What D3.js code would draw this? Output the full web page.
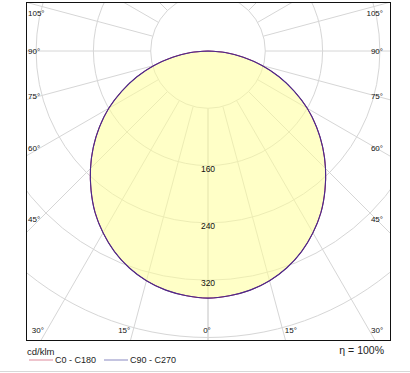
<!DOCTYPE html>
<html>
<head>
<meta charset="utf-8">
<script src="https://cdn.jsdelivr.net/npm/d3@7"></script>
<style>
  body { margin: 0; background: #fff; }
  text { font-family: "Liberation Sans", Arial, sans-serif; }
</style>
</head>
<body>
<svg width="410" height="373"></svg>
<script>
const width = 410
const height = 373

// gamma angles (deg) and intensities (cd/klm)
const gammas = [0, 5, 10, 15, 20, 25, 30, 35, 40, 45, 50, 55, 60, 65, 70, 75, 80, 85, 90]
const c0c180 = [345, 343, 339, 332, 322, 309, 293, 275, 254, 232, 209, 185, 160, 133, 106, 78, 50, 24, 0]
const c90c270 = [345, 343, 339, 332, 322, 309, 293, 275, 254, 232, 209, 185, 160, 133, 106, 78, 50, 24, 0]

const rings = [80, 160, 240, 320, 400, 480]
const ringLabels = [160, 240, 320]
const spokes = [0, 15, 30, 45, 60, 75, 90, 105, 120, 135, 150, 165, 180]
const sideLabels = [45, 60, 75, 90, 105]
const bottomLabels = [30, 15, 0]

let frame = {left: 26, top: 2, right: 390, bottom: 340}
let cx = 208, cy = 51

const svg = d3.select("svg")

const r = d3.scaleLinear().domain([0, 80]).range([0, 57.3])

// point for gamma angle (deg) on a side (+1 right, -1 left)
function pt(g, v, side) {
    let a = g * Math.PI / 180
    return [cx + side * r(v) * Math.sin(a), cy + r(v) * Math.cos(a)]
}

svg.append("defs").append("clipPath").attr("id", "clip")
    .append("rect")
    .attr("x", frame.left).attr("y", frame.top)
    .attr("width", frame.right - frame.left).attr("height", frame.bottom - frame.top)

const plot = svg.append("g").attr("clip-path", "url(#clip)")

// grid rings
plot.selectAll(".ring")
    .data(rings)
    .enter().append("circle")
    .attr("cx", cx).attr("cy", cy)
    .attr("r", d => r(d))
    .attr("fill", "none")
    .attr("stroke", "#d6d6d6")
    .attr("stroke-width", 1)

// spokes, starting at the first ring
spokes.forEach(function(g) {
    [-1, 1].forEach(function(side) {
        let p0 = pt(g, rings[0], side), p1 = pt(g, 800, side)
        plot.append("line")
            .attr("x1", p0[0]).attr("y1", p0[1])
            .attr("x2", p1[0]).attr("y2", p1[1])
            .attr("stroke", "#d6d6d6")
            .attr("stroke-width", 1)
    })
})

// distribution curves
const line = d3.line().curve(d3.curveCatmullRom.alpha(0.5))

function curvePoints(vals) {
    let left = gammas.map((g, i) => pt(g, vals[i], -1)).reverse()
    let right = gammas.map((g, i) => pt(g, vals[i], 1)).slice(1)
    return left.concat(right)
}

plot.append("path")
    .attr("d", line(curvePoints(c0c180)) + "Z")
    .attr("fill", "#ffff99")
    .attr("fill-opacity", 0.55)
    .attr("stroke", "#b03060")
    .attr("stroke-width", 1)

plot.append("path")
    .attr("d", line(curvePoints(c90c270)) + "Z")
    .attr("fill", "none")
    .attr("stroke", "#4a2a8c")
    .attr("stroke-width", 1.1)

// intensity labels
plot.selectAll(".rlab")
    .data(ringLabels)
    .enter().append("text")
    .attr("x", cx)
    .attr("y", d => cy + r(d) + 6)
    .attr("text-anchor", "middle")
    .attr("font-size", "8.5px")
    .attr("fill", "#111")
    .text(d => d)

// side angle labels
sideLabels.forEach(function(g) {
    let a = g * Math.PI / 180
    let y = cy + (cx - frame.left - 14) / Math.tan(a)
    if (g == 90) y = cy
    y = Math.max(y, frame.top + 11)
    svg.append("text")
        .attr("x", frame.left + 2).attr("y", y + 3)
        .attr("font-size", "8px").attr("fill", "#111")
        .text(g + "°")
    svg.append("text")
        .attr("x", frame.right - 7).attr("y", y + 3)
        .attr("text-anchor", "end")
        .attr("font-size", "8px").attr("fill", "#111")
        .text(g + "°")
})

// bottom angle labels
bottomLabels.forEach(function(g) {
    let a = g * Math.PI / 180
    let y = frame.bottom - 10
    let dx = (y - cy) * Math.tan(a)
    if (g == 0) {
        svg.append("text").attr("x", cx - 1).attr("y", y + 3)
            .attr("text-anchor", "middle")
            .attr("font-size", "8px").attr("fill", "#111")
            .text(g + "°")
        return
    }
    svg.append("text").attr("x", cx - dx - 3).attr("y", y + 3)
        .attr("text-anchor", "end")
        .attr("font-size", "8px").attr("fill", "#111")
        .text(g + "°")
    svg.append("text").attr("x", cx + dx + 2).attr("y", y + 3)
        .attr("font-size", "8px").attr("fill", "#111")
        .text(g + "°")
})

// frame
svg.append("rect")
    .attr("x", frame.left + 0.5).attr("y", frame.top + 0.5)
    .attr("width", frame.right - frame.left).attr("height", frame.bottom - frame.top)
    .attr("fill", "none")
    .attr("stroke", "#111")
    .attr("stroke-width", 1)

// legend
svg.append("text")
    .attr("x", 27).attr("y", 355)
    .attr("font-size", "9.5px").attr("fill", "#222")
    .text("cd/klm")

const legendItems = [
    {name: "C0 - C180", color: "#e8b0bc", x: 29},
    {name: "C90 - C270", color: "#b0b0d6", x: 104}
]
const legend = svg.selectAll(".legend")
    .data(legendItems)
    .enter().append("g")
    .attr("transform", d => "translate(" + d.x + ",360)")
legend.append("line")
    .attr("x1", 0).attr("x2", 24)
    .attr("stroke", d => d.color)
    .attr("stroke-width", 1.5)
legend.append("text")
    .attr("x", 26).attr("y", 3)
    .attr("font-size", "9px").attr("fill", "#222")
    .text(d => d.name)

svg.append("text")
    .attr("x", 384).attr("y", 354)
    .attr("text-anchor", "end")
    .attr("font-size", "10.5px").attr("fill", "#222")
    .text("η = 100%")

// bottom separator
svg.append("line")
    .attr("x1", 0).attr("x2", width)
    .attr("y1", 371.5).attr("y2", 371.5)
    .attr("stroke", "#d8d8d8")
</script>
</body>
</html>
